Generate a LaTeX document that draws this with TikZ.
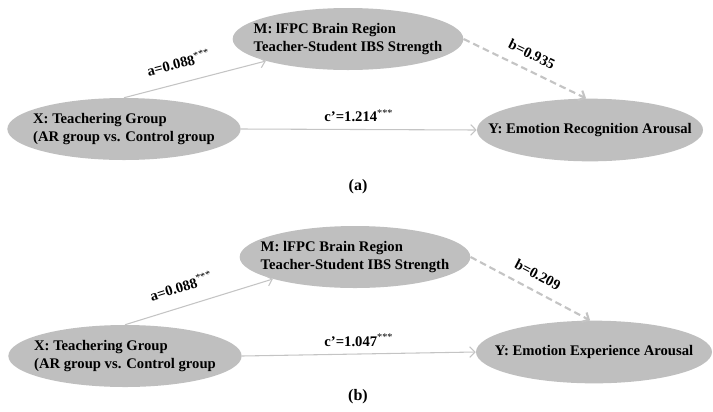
\documentclass[tikz,border=0pt]{standalone}
\usepackage{fontspec}
\setmainfont{Liberation Serif}
\usepackage{xcolor}
\usetikzlibrary{positioning, shapes.geometric, arrows.meta}
\definecolor{ovalgray}{RGB}{191,191,191}
\definecolor{linegray}{RGB}{196,196,196}

\begin{document}
\begin{tikzpicture}[x=0.75pt, y=-0.75pt,
    oval/.style={ellipse, fill=ovalgray, inner xsep=-20pt, inner ysep=0pt,
                 minimum height=46.5pt, align=left,
                 font=\bfseries\fontsize{11}{13}\selectfont},
    linkarrow/.style={draw=linegray, line width=0.8pt, -{Straight Barb[length=4pt,width=8pt]}},
    weakarrow/.style={linkarrow, line width=1.6pt, dash pattern=on 5pt off 3pt},
    coef/.style={font=\bfseries\fontsize{11}{13}\selectfont, text=black}]
    \useasboundingbox (0,0) rectangle (713,411);
    % Un pannello per ogni esito: (a) riconoscimento, (b) esperienza
    \foreach \p/\xx/\xy/\mx/\my/\yx/\yy/\yw/\ty/\yname/\cval/\bval in {
            a/124/129/348/39/590/130/169.5/187/Recognition/1.214/0.935,
            b/125/356/355/257/594/352/177/397/Experience/1.047/0.209} {
        % Variabili X, M, Y
        \node[oval, minimum width=175pt] (X\p) at (\xx,\xy)
            {X: Teachering Group\\(AR group vs. Control group};
        \node[oval, minimum width=173pt] (M\p) at (\mx,\my)
            {M: lFPC Brain Region\\Teacher-Student IBS Strength};
        \node[oval, minimum width=\yw pt, minimum height=47pt] (Y\p) at (\yx,\yy)
            {Y: Emotion \yname{} Arousal};
        % Percorsi con i coefficienti
        \draw[linkarrow] (X\p.north) -- (M\p.195)
            node[coef, pos=0.42, above=7pt, sloped] {a=0.088\textsuperscript{\mdseries***}};
        \draw[linkarrow] (X\p.east) -- (Y\p.west)
            node[coef, midway, above=2pt] {c’=\cval\textsuperscript{\mdseries***}};
        \draw[weakarrow] (M\p.east) -- (Y\p.97)
            node[coef, midway, above=4pt, sloped] {b=\bval};
        % Etichetta del pannello
        \node[coef, font=\bfseries\fontsize{12}{14}\selectfont] (tag\p) at (358,\ty) {(\p)};
    }
\end{tikzpicture}
\end{document}
